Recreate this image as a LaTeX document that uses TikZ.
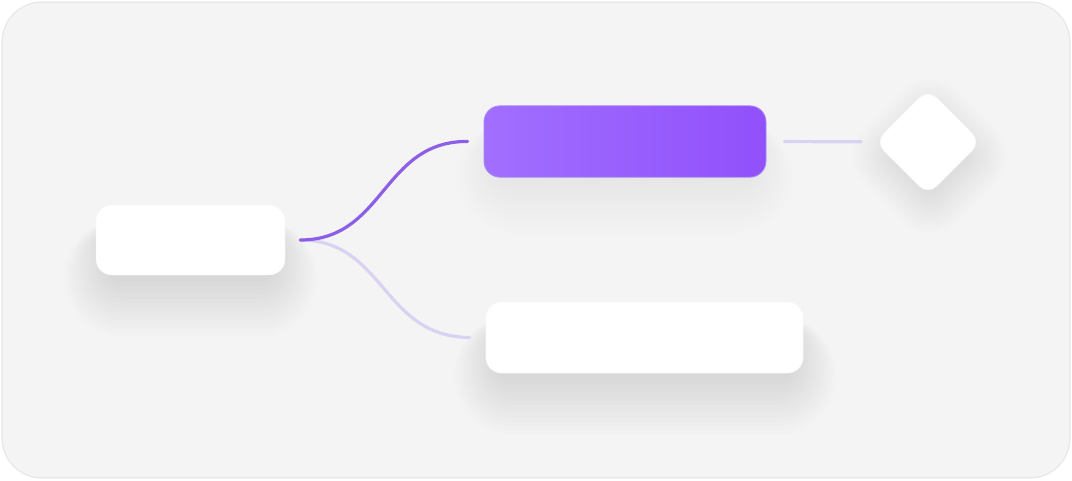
\documentclass[tikz,border=0pt]{standalone}
\usetikzlibrary{calc}
\definecolor{panel}{HTML}{F4F4F4}
\definecolor{panelrim}{HTML}{E6E6E6}
\definecolor{purpA}{HTML}{A16FFF}
\definecolor{purpB}{HTML}{9150FB}
\definecolor{purprim}{HTML}{A98AF0}
\definecolor{linkmain}{HTML}{8D5FE6}
\definecolor{linksoft}{HTML}{DAD2F3}
\tikzset{
  card/.style={rounded corners=12pt, fill=white, draw=white!97!black, line width=0.3pt, inner sep=0pt},
  link/.style={line width=2.4pt, line cap=round},
}
\newcommand{\softshadow}[6]{% x1 y1 x2 y2 (px, y down) radius opacity
  \foreach \i in {0,...,13}{
    \fill[black, opacity=#6, rounded corners={#5+\i*2.5pt}]
      ($(#1-\i*3.2,#2+12-\i*0.4)$) rectangle ($(#3+\i*3.2,#4+14+\i*4.2)$);
  }
}
\begin{document}
\begin{tikzpicture}[x=0.75pt, y=-0.75pt]
\useasboundingbox (0,0) rectangle (1072,480);
% panel
\fill[white] (0,0) rectangle (1072,480);
\filldraw[fill=panel, draw=panelrim, line width=0.8pt, rounded corners=30pt] (2,2) rectangle (1070,478);
% shadows
\softshadow{106}{212}{275}{268}{12pt}{0.006}
\softshadow{496}{309}{794}{366}{12pt}{0.006}
\softshadow{498}{114}{752}{166}{12pt}{0.004}
\begin{scope}[shift={(930,156)}, rotate=45]
  \foreach \i in {0,...,10}{
    \fill[black, opacity=0.007, rounded corners={8pt+\i*2pt}] (-30-\i*3.5,-30-\i*3.5) rectangle (30+\i*3.5,30+\i*3.5);
  }
\end{scope}
% nodes
\node[card, minimum width=141.75pt, minimum height=52.5pt] (L) at (190.5,240) {};
\node[rounded corners=12pt, draw=purprim, line width=0.6pt, inner sep=0pt,
      minimum width=211.5pt, minimum height=53.5pt,
      left color=purpA, right color=purpB] (P) at (625,141.5) {};
\node[card, minimum width=238pt, minimum height=53.5pt] (Q) at (644.5,337.5) {};
\node[card, rotate=45, rounded corners=9pt, minimum width=56pt, minimum height=56pt] (D) at (928,142) {};
% connectors
\draw[link, linksoft, shorten <=15pt*0.75, shorten >=16pt*0.75]
  (L.east) .. controls (385,240) and (382,337) .. (Q.west);
\draw[link, linkmain, shorten <=15pt*0.75, shorten >=16pt*0.75]
  (L.east) .. controls (385,240) and (382,141) .. (P.west);
\draw[link, linksoft, line cap=butt, shorten <=17pt*0.75, shorten >=66pt*0.75]
  (P.east) -- (D.center);
\end{tikzpicture}
\end{document}
